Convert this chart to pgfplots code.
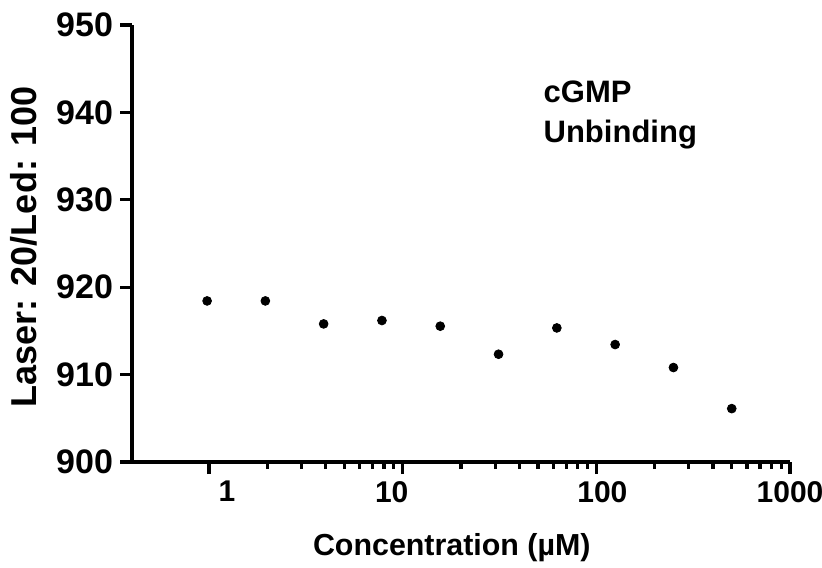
\documentclass[border=0pt]{standalone}
\usepackage{fontspec}
\setmainfont{Liberation Sans}
\usepackage{pgfplots}
\pgfplotsset{compat=1.18}

\begin{document}
\begin{tikzpicture}
\begin{axis}[
    scale only axis,
    width=329pt, height=218.5pt,
    xmode=log,
    xmin=0.4, xmax=1000,
    ymin=900, ymax=950,
    ytick={900,910,...,950},
    xtick={1,10,100,1000},
    xticklabels={\hspace*{18pt}1, 10\hspace*{11pt}, \hspace*{6pt}100, 1000},
    axis lines=left,
    axis line style={-, line width=2pt},
    every tick/.style={black, line width=1.6pt},
    tick align=outside,
    major tick length=6pt,
    minor tick length=3.5pt,
    ytick pos=left, xtick pos=bottom,
    /pgf/number format/assume math mode=true,
    /pgf/number format/1000 sep={},
    yticklabel style={font=\fontsize{17}{18}\selectfont\bfseries},
    xticklabel style={font=\fontsize{15}{17}\selectfont\bfseries},
    xlabel={Concentration (µM)},
    ylabel={Laser: 20/Led: 100},
    xlabel style={font=\fontsize{15.2}{17}\selectfont\bfseries, at={(rel axis cs:0.486,-0.197)}, anchor=center},
    ylabel style={font=\fontsize{18}{20}\selectfont\bfseries, at={(rel axis cs:-0.164,0.492)}, anchor=center},
    clip=false,
]
\addplot[only marks, mark=*, mark size=2.2pt, black] coordinates {
    (0.977,918.43)
    (1.953,918.43)
    (3.906,915.8)
    (7.8125,916.19)
    (15.625,915.54)
    (31.25,912.33)
    (62.5,915.34)
    (125,913.44)
    (250,910.81)
    (500,906.11)
};
\node[anchor=base west, inner sep=0pt, font=\fontsize{15.5}{17}\selectfont\bfseries] at (rel axis cs:0.625,0.8215) {cGMP};
\node[anchor=base west, inner sep=0pt, font=\fontsize{15.5}{17}\selectfont\bfseries] at (rel axis cs:0.625,0.730) {Unbinding};
\coordinate (bl) at (rel axis cs:-0.2006,-0.2403);
\coordinate (tr) at (rel axis cs:1.0486,1.0572);
\end{axis}
\pgfresetboundingbox
\path[use as bounding box] (bl) rectangle (tr);
\end{tikzpicture}
\end{document}
